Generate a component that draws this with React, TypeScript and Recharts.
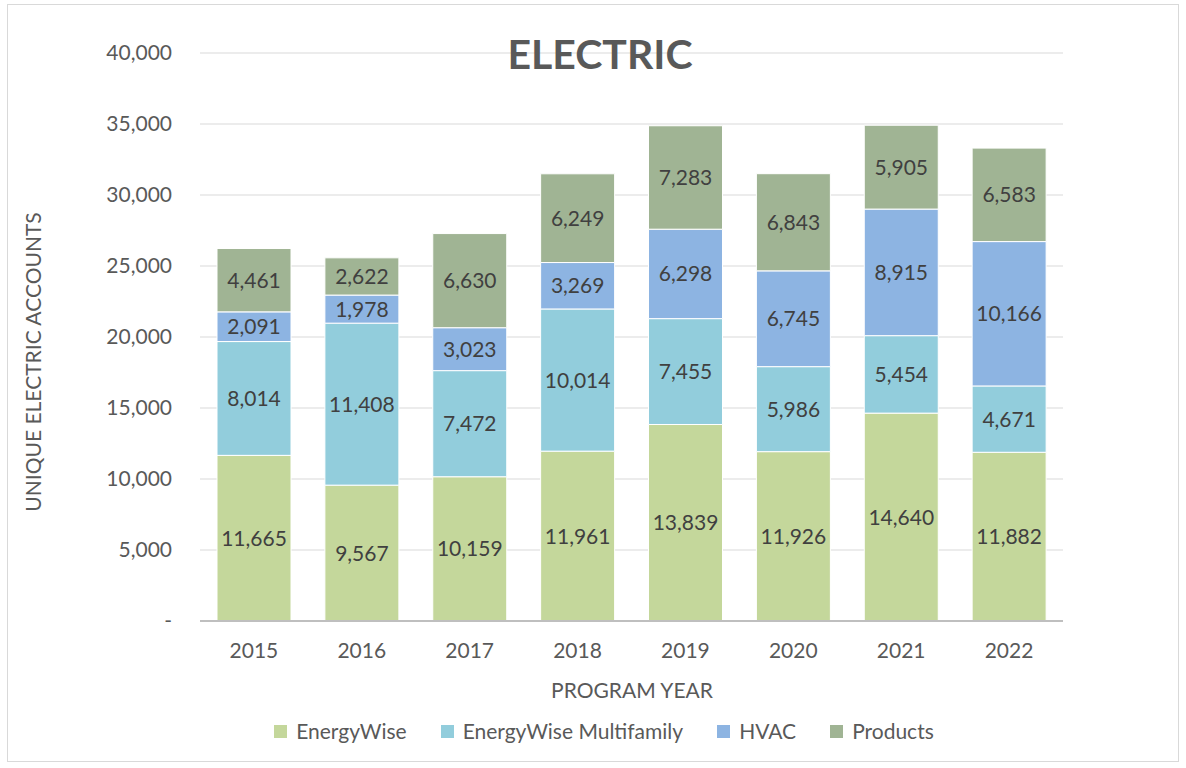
import { BarChart, Bar, XAxis, YAxis, CartesianGrid, LabelList } from 'recharts'

// Program years on the x axis
const years = ['2015', '2016', '2017', '2018', '2019', '2020', '2021', '2022']

// Unique electric accounts per program, stacked bottom -> top
const energyWise = [11665, 9567, 10159, 11961, 13839, 11926, 14640, 11882]
const multifamily = [8014, 11408, 7472, 10014, 7455, 5986, 5454, 4671]
const hvac = [2091, 1978, 3023, 3269, 6298, 6745, 8915, 10166]
const products = [4461, 2622, 6630, 6249, 7283, 6843, 5905, 6583]

const yTicks = [0, 5000, 10000, 15000, 20000, 25000, 30000, 35000, 40000]

const series = [
  { key: 'energyWise', name: 'EnergyWise', color: '#C4D79B' },
  { key: 'multifamily', name: 'EnergyWise Multifamily', color: '#92CDDC' },
  { key: 'hvac', name: 'HVAC', color: '#8DB4E2' },
  { key: 'products', name: 'Products', color: '#A0B494' },
]

const FONT = 'Lato, "Open Sans", sans-serif'
const TEXT = '#595959'
const FS = 21

const fmt = (v: number) => (v === 0 ? '-' : v.toLocaleString('en-US'))

export default function App() {
  const data = years.map((year, i) => ({
    year,
    energyWise: energyWise[i],
    multifamily: multifamily[i],
    hvac: hvac[i],
    products: products[i],
  }))

  return (
    <div
      style={{
        position: 'absolute',
        left: 0,
        top: 0,
        width: 1186,
        height: 768,
        background: '#fff',
        fontFamily: FONT,
      }}
    >
      <div
        style={{
          position: 'absolute',
          left: 7,
          top: 4,
          width: 1172,
          height: 758,
          border: '1px solid #D9D9D9',
          boxSizing: 'border-box',
        }}
      />
      <BarChart
        width={1186}
        height={768}
        data={data}
        margin={{ top: 53, right: 123, left: 0, bottom: 107 }}
        style={{ position: 'absolute', left: 0, top: 0, fontFamily: FONT }}
      >
        <CartesianGrid vertical={false} stroke="#D9D9D9" strokeWidth={1} />
        <XAxis
          dataKey="year"
          height={40}
          tickSize={0}
          tickMargin={22}
          tick={{ fill: TEXT, fontSize: FS }}
          axisLine={{ stroke: '#BFBFBF', strokeWidth: 2 }}
          tickLine={false}
        />
        <YAxis
          width={200}
          domain={[0, 40000]}
          ticks={yTicks}
          tickFormatter={fmt}
          tickSize={0}
          tickMargin={28}
          tick={{ fill: TEXT, fontSize: FS }}
          axisLine={false}
          tickLine={false}
        />
        {series.map(s => (
          <Bar
            key={s.key}
            dataKey={s.key}
            name={s.name}
            stackId="a"
            fill={s.color}
            stroke="#fff"
            strokeWidth={1}
            barSize={74}
            isAnimationActive={false}
          >
            <LabelList
              dataKey={s.key}
              position="center"
              formatter={(v: any) => Number(v).toLocaleString('en-US')}
              style={{ fill: '#404040', fontSize: FS, fontFamily: FONT }}
            />
          </Bar>
        ))}
      </BarChart>

      {/* title */}
      <div
        style={{
          position: 'absolute',
          left: 400,
          width: 400,
          top: 28,
          textAlign: 'center',
          fontSize: 41,
          fontWeight: 700,
          color: TEXT,
          lineHeight: '52px',
        }}
      >
        ELECTRIC
      </div>

      {/* y axis title */}
      <div
        style={{
          position: 'absolute',
          left: 33 - 200,
          top: 362 - 12,
          width: 400,
          textAlign: 'center',
          fontSize: FS,
          color: TEXT,
          lineHeight: '24px',
          transform: 'rotate(-90deg)',
        }}
      >
        UNIQUE ELECTRIC ACCOUNTS
      </div>

      {/* x axis title */}
      <div
        style={{
          position: 'absolute',
          left: 432,
          width: 400,
          top: 678,
          textAlign: 'center',
          fontSize: FS,
          color: TEXT,
          lineHeight: '24px',
        }}
      >
        PROGRAM YEAR
      </div>

      {/* legend */}
      <div
        style={{
          position: 'absolute',
          left: 204,
          width: 800,
          top: 719,
          display: 'flex',
          justifyContent: 'center',
          gap: 34,
          fontSize: FS,
          color: TEXT,
          lineHeight: '24px',
        }}
      >
        {series.map(s => (
          <div key={s.key} style={{ display: 'flex', alignItems: 'center', gap: 9 }}>
            <span style={{ display: 'inline-block', width: 13, height: 13, background: s.color }} />
            <span>{s.name}</span>
          </div>
        ))}
      </div>
    </div>
  )
}
